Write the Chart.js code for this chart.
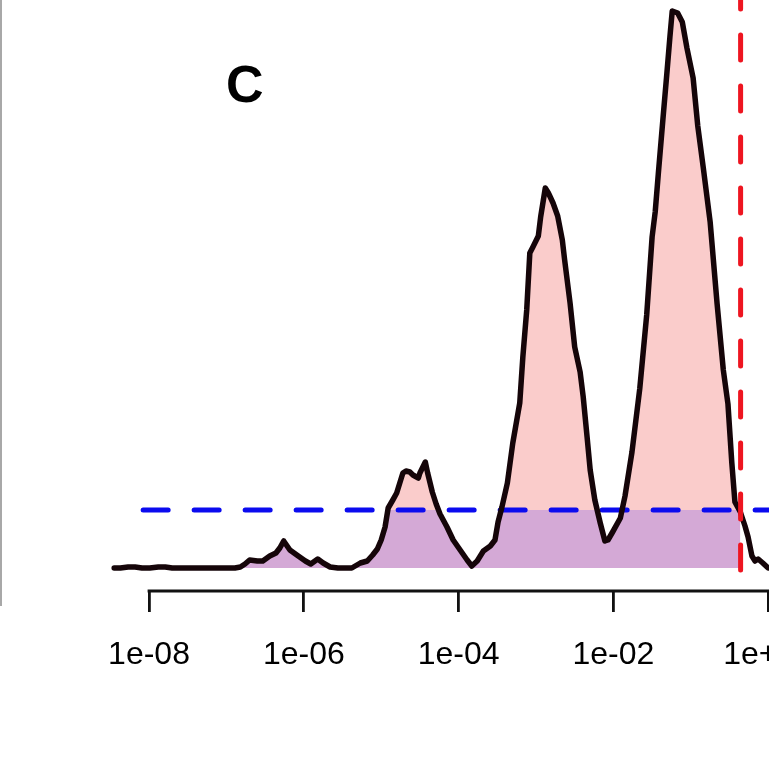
<!DOCTYPE html>
<html>
<head>
<meta charset="utf-8">
<script src="https://cdn.jsdelivr.net/npm/chart.js@4/dist/chart.umd.min.js"></script>
<style>
  html, body { margin: 0; padding: 0; background: #fff; overflow: hidden; }
  #wrap { position: relative; width: 880px; height: 757px; }
  #edge { position: absolute; left: 0; top: 0; width: 2px; height: 606px; background: #a8a8a8; }
  #panel { position: absolute; left: 226px; top: 58px; font: bold 52px "Liberation Sans", Arial, sans-serif; line-height: 52px; color: #000; }
</style>
</head>
<body>
<div id="wrap">
  <canvas id="c" width="880" height="757"></canvas>
  <div id="edge"></div>
  <div id="panel">C</div>
</div>
<script>
// log10 of the value on the x axis, and the density estimated at that point
const logP = [
  -8.45, -8.37, -8.27, -8.18, -8.09, -7.99, -7.88, -7.79, -7.70, -7.60,
  -7.41, -7.21, -7.02, -6.89, -6.82, -6.76, -6.70, -6.60, -6.53, -6.44,
  -6.36, -6.31, -6.26, -6.18, -6.09, -5.98, -5.91, -5.82, -5.75, -5.66,
  -5.56, -5.47, -5.38, -5.27, -5.18, -5.11, -5.05, -5.00, -4.95, -4.91,
  -4.85, -4.80, -4.72, -4.68, -4.63, -4.59, -4.52, -4.50, -4.43, -4.40,
  -4.34, -4.29, -4.24, -4.15, -4.07, -3.98, -3.89, -3.83, -3.76, -3.68,
  -3.59, -3.53, -3.49, -3.44, -3.37, -3.30, -3.21, -3.17, -3.12, -3.08,
  -3.04, -2.97, -2.94, -2.88, -2.84, -2.78, -2.72, -2.66, -2.63, -2.56,
  -2.50, -2.43, -2.39, -2.34, -2.30, -2.24, -2.17, -2.11, -2.07, -2.01,
  -1.91, -1.85, -1.76, -1.66, -1.57, -1.50, -1.46, -1.42, -1.36, -1.31,
  -1.27, -1.24, -1.17, -1.11, -1.05, -0.97, -0.91, -0.84, -0.75, -0.66,
  -0.58, -0.52, -0.47, -0.43, -0.36, -0.30, -0.26, -0.21, -0.17, -0.13,
  -0.07, 0.00, 0.09
];
const density = [
  0.00, 0.00, 0.01, 0.01, 0.00, 0.00, 0.01, 0.01, 0.00, 0.00,
  0.00, 0.00, 0.00, 0.00, 0.01, 0.04, 0.08, 0.07, 0.07, 0.12,
  0.15, 0.20, 0.27, 0.18, 0.13, 0.07, 0.04, 0.09, 0.05, 0.01,
  0.00, 0.00, 0.00, 0.05, 0.07, 0.13, 0.19, 0.28, 0.41, 0.60,
  0.68, 0.75, 0.95, 0.97, 0.96, 0.93, 0.90, 0.95, 1.06, 0.95,
  0.76, 0.64, 0.54, 0.41, 0.28, 0.18, 0.08, 0.02, 0.07, 0.17,
  0.22, 0.28, 0.46, 0.61, 0.85, 1.25, 1.65, 2.11, 2.58, 3.15,
  3.21, 3.32, 3.51, 3.80, 3.75, 3.65, 3.52, 3.28, 3.08, 2.65,
  2.21, 1.96, 1.71, 1.31, 0.98, 0.68, 0.45, 0.27, 0.28, 0.36,
  0.50, 0.72, 1.16, 1.79, 2.53, 3.31, 3.56, 3.94, 4.49, 4.94,
  5.31, 5.57, 5.55, 5.46, 5.20, 4.90, 4.42, 4.01, 3.46, 2.64,
  1.98, 1.64, 1.05, 0.66, 0.56, 0.42, 0.31, 0.12, 0.07, 0.09,
  0.05, 0.00, 0.00
];
const tickExponents = [-8, -6, -4, -2, 0];
const cutoff = 0.44;          // vertical threshold
const densityLevel = 0.58;    // horizontal reference level
const levelFrom = 8.4e-9;     // where the reference level starts

const X_MIN = Math.pow(10, -8.504);
const X_MAX = Math.pow(10, 1.186);
const Y_MIN = -0.23;
const Y_MAX = 5.68;

const curve = logP.map((e, i) => ({ x: Math.pow(10, e), y: density[i] }));
const belowCutoff = curve.filter(p => p.x <= cutoff);

function sciLabel(v) {
  const e = Math.round(Math.log10(v));
  return '1e' + (e < 0 ? '-' : '+') + String(Math.abs(e)).padStart(2, '0');
}

const axisLine = {
  id: 'axisLine',
  afterDraw(chart) {
    const s = chart.scales.x;
    const ctx = chart.ctx;
    const x0 = s.getPixelForValue(Math.pow(10, tickExponents[0]));
    const x1 = s.getPixelForValue(Math.pow(10, tickExponents[tickExponents.length - 1]));
    ctx.save();
    ctx.strokeStyle = '#111';
    ctx.lineWidth = 2.8;
    ctx.lineCap = 'square';
    ctx.beginPath();
    ctx.moveTo(x0, s.top);
    ctx.lineTo(x1, s.top);
    ctx.stroke();
    ctx.restore();
  }
};

new Chart(document.getElementById('c'), {
  type: 'line',
  data: {
    datasets: [
      {
        label: 'cutoff',
        data: [{ x: cutoff, y: Y_MIN }, { x: cutoff, y: Y_MAX }],
        borderColor: '#ee1520',
        borderWidth: 5,
        borderDash: [25, 26],
        borderDashOffset: 30,
        borderCapStyle: 'round',
        pointRadius: 0,
        fill: false,
        order: 1
      },
      {
        label: 'density',
        data: curve,
        borderColor: '#150509',
        borderWidth: 5.5,
        borderJoinStyle: 'round',
        borderCapStyle: 'round',
        pointRadius: 0,
        tension: 0,
        fill: false,
        order: 2
      },
      {
        label: 'level',
        data: [{ x: levelFrom, y: densityLevel }, { x: X_MAX, y: densityLevel }],
        borderColor: '#0b0bef',
        borderWidth: 5,
        borderDash: [25, 26],
        borderCapStyle: 'round',
        pointRadius: 0,
        fill: false,
        order: 3
      },
      {
        label: 'above level',
        data: belowCutoff,
        borderWidth: 0,
        borderColor: 'rgba(0,0,0,0)',
        pointRadius: 0,
        tension: 0,
        fill: { target: { value: densityLevel }, above: '#facccb', below: 'rgba(0,0,0,0)' },
        order: 4
      },
      {
        label: 'under level',
        data: belowCutoff,
        borderWidth: 0,
        borderColor: 'rgba(0,0,0,0)',
        backgroundColor: '#d4a9d6',
        pointRadius: 0,
        tension: 0,
        fill: { target: { value: 0 } },
        order: 5
      }
    ]
  },
  options: {
    responsive: false,
    animation: false,
    devicePixelRatio: 1,
    layout: { padding: { left: 110, right: 20, top: 0, bottom: 0 } },
    plugins: {
      legend: { display: false },
      tooltip: { enabled: false },
      title: { display: false }
    },
    scales: {
      x: {
        type: 'logarithmic',
        min: X_MIN,
        max: X_MAX,
        afterBuildTicks(scale) {
          scale.ticks = tickExponents.map(e => ({ value: Math.pow(10, e) }));
        },
        afterFit(scale) { scale.height = 166; },
        ticks: {
          autoSkip: false,
          maxRotation: 0,
          minRotation: 0,
          padding: 24,
          color: '#000',
          font: { family: '"Liberation Sans", Arial, sans-serif', size: 32 },
          callback: (v) => sciLabel(v)
        },
        grid: {
          drawOnChartArea: false,
          drawTicks: true,
          tickLength: 21,
          tickColor: '#111',
          tickWidth: 2.8,
          color: '#111',
          lineWidth: 2.8
        },
        border: { display: false }
      },
      y: {
        type: 'linear',
        display: false,
        min: Y_MIN,
        max: Y_MAX
      }
    }
  },
  plugins: [axisLine]
});
</script>
</body>
</html>
